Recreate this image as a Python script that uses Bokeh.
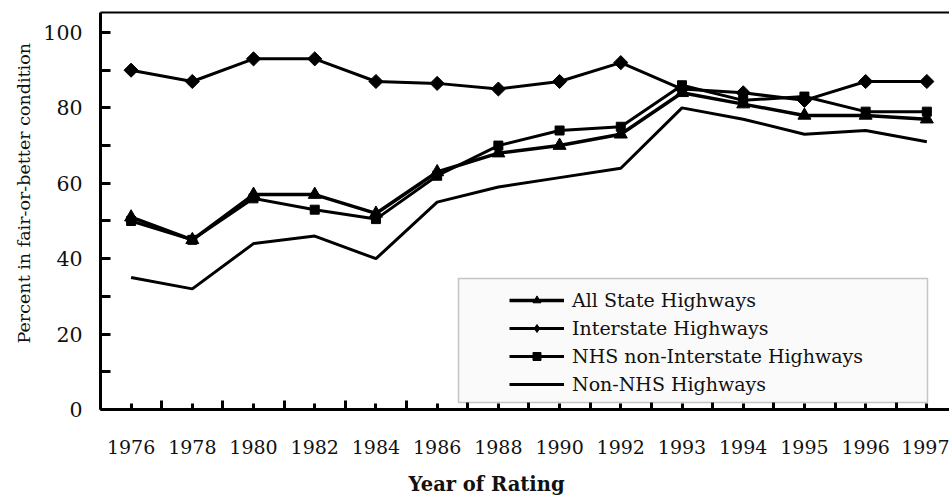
import math
from bokeh.plotting import figure
from bokeh.models import (Range1d, FixedTicker, LinearAxis, Title, Legend, LegendItem,
                          BoxAnnotation, ColumnDataSource)
from bokeh.embed import file_html
from bokeh.resources import INLINE

years = ["1976", "1978", "1980", "1982", "1984", "1986", "1988", "1990",
         "1992", "1993", "1994", "1995", "1996", "1997"]
all_state = [51, 45, 57, 57, 52, 63, 68, 70, 73, 84, 81, 78, 78, 77]
interstate = [90, 87, 93, 93, 87, 86.5, 85, 87, 92, 85, 84, 82, 87, 87]
nhs_non_interstate = [50, 45, 56, 53, 50.5, 62, 70, 74, 75, 86, 82, 83, 79, 79]
non_nhs = [35, 32, 44, 46, 40, 55, 59, 61.5, 64, 80, 77, 73, 74, 71]

y_ticks = [0, 20, 40, 60, 80, 100]
y_minor = [10, 30, 50, 70, 90]

FONT = "DejaVu Serif"
idx = list(range(len(years)))
src = ColumnDataSource(dict(x=idx, all_state=all_state, interstate=interstate,
                            nhs=nhs_non_interstate, non_nhs=non_nhs))

p = figure(frame_width=849, frame_height=397, output_backend="svg", toolbar_location=None,
           x_range=Range1d(-0.5, 13.37), y_range=Range1d(0, 105.3),
           min_border_left=100, min_border_right=0, min_border_top=12, min_border_bottom=10,
           x_axis_location=None, y_axis_location=None)
p.outline_line_color = None
p.grid.visible = False
p.background_fill_color = "white"
p.border_fill_color = "white"

# axes
xax = LinearAxis(ticker=FixedTicker(ticks=idx, minor_ticks=[i - 0.5 for i in range(len(years) + 1)]),
                 major_label_overrides={i: y for i, y in enumerate(years)})
xax.axis_line_width = 3
xax.major_tick_in = 6
xax.major_tick_out = 0
xax.minor_tick_in = 9
xax.minor_tick_out = 0
xax.major_tick_line_width = 3
xax.minor_tick_line_width = 3
xax.major_label_text_font = FONT
xax.major_label_text_font_size = "19px"
xax.major_label_standoff = 30
xax.major_label_text_color = "#111111"
p.add_layout(xax, "below")

yax = LinearAxis(ticker=FixedTicker(ticks=y_ticks, minor_ticks=y_minor))
yax.axis_line_width = 3
yax.major_tick_in = 10
yax.major_tick_out = 0
yax.minor_tick_in = 10
yax.minor_tick_out = 0
yax.major_tick_line_width = 3
yax.minor_tick_line_width = 3
yax.major_label_text_font = FONT
yax.major_label_text_font_size = "20.5px"
yax.major_label_standoff = 18
yax.major_label_text_color = "#111111"
p.add_layout(yax, "left")

tax = LinearAxis(ticker=FixedTicker(ticks=[]))
tax.axis_line_width = 2
tax.major_tick_in = 0
tax.major_tick_out = 0
tax.minor_tick_in = 0
tax.minor_tick_out = 0
tax.major_label_text_font_size = "0px"
p.add_layout(tax, "above")

# series
r1 = p.line("x", "all_state", source=src, line_color="black", line_width=3.5)
m1 = p.scatter("x", "all_state", source=src, marker="triangle", size=13, color="black")
r2 = p.line("x", "interstate", source=src, line_color="black", line_width=3)
m2 = p.scatter("x", "interstate", source=src, marker="square", angle=math.pi / 4,
               size=10, color="black")
# same points as a plain diamond (hidden under the rotated squares) so the legend shows a diamond
m2d = p.scatter("x", "interstate", source=src, marker="diamond", size=10, color="black")
r3 = p.line("x", "nhs", source=src, line_color="black", line_width=3)
m3 = p.scatter("x", "nhs", source=src, marker="square", size=9, color="black")
r4 = p.line("x", "non_nhs", source=src, line_color="black", line_width=3)

# legend frame
box = BoxAnnotation(left=358, right=827, bottom=7, top=131,
                    left_units="screen", right_units="screen",
                    bottom_units="screen", top_units="screen",
                    fill_color="#fafafa", fill_alpha=1.0,
                    line_color="#444444", line_width=1.5, level="annotation")
p.add_layout(box)

legend = Legend(items=[
    LegendItem(label="All State Highways", renderers=[r1, m1]),
    LegendItem(label="Interstate Highways", renderers=[r2, m2d]),
    LegendItem(label="NHS non-Interstate Highways", renderers=[r3, m3]),
    LegendItem(label="Non-NHS Highways", renderers=[r4]),
], location=(409, 14))
legend.background_fill_alpha = 0
legend.border_line_color = None
legend.padding = 5
legend.margin = 0
legend.spacing = 6
legend.glyph_width = 55
legend.glyph_height = 20
legend.label_height = 20
legend.label_standoff = 8
legend.label_text_font = FONT
legend.label_text_font_size = "19px"
legend.label_text_color = "#111111"
p.add_layout(legend, "center")

# axis titles
p.add_layout(Title(text="Percent in fair-or-better condition", align="left", offset=66,
                   standoff=14, text_font=FONT, text_font_size="17.5px",
                   text_font_style="normal", text_color="#111111"), "left")
p.add_layout(Title(text="Year of Rating", align="left", offset=308, standoff=29,
                   text_font=FONT, text_font_size="19.5px", text_font_style="bold",
                   text_color="#111111"), "below")

open("out.html", "w").write(file_html(p, INLINE))
